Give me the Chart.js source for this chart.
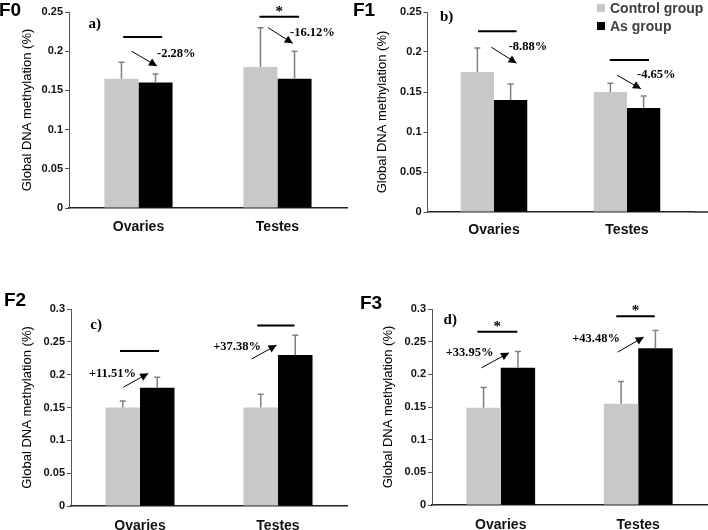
<!DOCTYPE html>
<html>
<head>
<meta charset="utf-8">
<script src="https://cdn.jsdelivr.net/npm/chart.js@4.4.1/dist/chart.umd.min.js"></script>
<style>
  body { margin: 0; background: #fff; }
  #wrap { position: relative; width: 708px; height: 530px; overflow: hidden; }
  canvas { position: absolute; }
  .tag { position: absolute; font: bold 19px "Liberation Sans", Arial, sans-serif; line-height: 19px; color: #000; }
  .lg { position: absolute; display: flex; align-items: center; font: bold 14px "Liberation Sans", Arial, sans-serif; line-height: 16px; color: #404040; }
  .sw { display: inline-block; width: 8px; height: 8px; margin-right: 5px; }
</style>
</head>
<body>
<div id="wrap">
  <canvas id="f0" width="354" height="250" style="left:0;top:0"></canvas>
  <canvas id="f1" width="354" height="250" style="left:354px;top:0"></canvas>
  <canvas id="f2" width="354" height="265" style="left:0;top:265px"></canvas>
  <canvas id="f3" width="354" height="265" style="left:354px;top:265px"></canvas>
  <div class="tag" style="left:-1px;top:0">F0</div>
  <div class="tag" style="left:353px;top:0">F1</div>
  <div class="tag" style="left:4px;top:290px">F2</div>
  <div class="tag" style="left:360px;top:293px">F3</div>
  <div class="lg" style="left:597px;top:0"><span class="sw" style="background:#c8c8c8"></span>Control group</div>
  <div class="lg" style="left:597px;top:18px"><span class="sw" style="background:#000"></span>As group</div>
</div>
<script>
// data
const categories = ['Ovaries', 'Testes'];
const seriesNames = ['Control group', 'As group'];
const ticksTop = ['0', '0.05', '0.1', '0.15', '0.2', '0.25'];
const ticksBottom = ['0', '0.05', '0.1', '0.15', '0.2', '0.25', '0.3'];

const f0Control = [0.165, 0.18];
const f0ControlSd = [0.021, 0.05];
const f0As = [0.16, 0.165];
const f0AsSd = [0.011, 0.035];
const f0Change = ['-2.28%', '-16.12%'];
const f0Signif = [false, true];

const f1Control = [0.175, 0.15];
const f1ControlSd = [0.03, 0.011];
const f1As = [0.14, 0.13];
const f1AsSd = [0.02, 0.015];
const f1Change = ['-8.88%', '-4.65%'];
const f1Signif = [false, false];

const f2Control = [0.15, 0.15];
const f2ControlSd = [0.01, 0.02];
const f2As = [0.18, 0.23];
const f2AsSd = [0.016, 0.03];
const f2Change = ['+11.51%', '+37.38%'];
const f2Signif = [false, false];

const f3Control = [0.149, 0.155];
const f3ControlSd = [0.031, 0.034];
const f3As = [0.21, 0.24];
const f3AsSd = [0.025, 0.027];
const f3Change = ['+33.95%', '+43.48%'];
const f3Signif = [true, true];

const FONT = '"Liberation Sans", Arial, sans-serif';
const SERIF = '"Liberation Serif", "Times New Roman", serif';

// one-sided (upper) error bars
const errorBars = {
  id: 'errorBars',
  afterDatasetsDraw(chart) {
    const ctx = chart.ctx, y = chart.scales.y;
    ctx.save();
    ctx.strokeStyle = '#808080';
    ctx.lineWidth = 1.5;
    chart.data.datasets.forEach((ds, di) => {
      chart.getDatasetMeta(di).data.forEach((bar, i) => {
        const top = y.getPixelForValue(ds.data[i] + ds.errors[i]);
        ctx.beginPath();
        ctx.moveTo(bar.x, bar.y);
        ctx.lineTo(bar.x, top);
        ctx.moveTo(bar.x - 3, top);
        ctx.lineTo(bar.x + 3, top);
        ctx.stroke();
      });
    });
    ctx.restore();
  }
};

// significance lines, arrows and % change labels (positions in category/value units)
const notes = {
  id: 'notes',
  afterDatasetsDraw(chart, args, o) {
    const ctx = chart.ctx, x = chart.scales.x, y = chart.scales.y;
    const X = v => x.getPixelForValue(v);
    const Y = v => y.getPixelForValue(v);
    ctx.save();
    ctx.fillStyle = '#000';
    ctx.strokeStyle = '#000';
    ctx.textBaseline = 'middle';
    ctx.textAlign = 'left';
    ctx.font = 'bold 15px ' + SERIF;
    ctx.fillText(o.letter, X(o.letterAt[0]), Y(o.letterAt[1]));

    categories.forEach((c, i) => {
      const [a, b, v] = o.sig[i];
      ctx.lineWidth = 2;
      ctx.beginPath();
      ctx.moveTo(X(i + a), Y(v));
      ctx.lineTo(X(i + b), Y(v));
      ctx.stroke();
      if (o.signif[i]) {
        ctx.font = 'bold 15px ' + SERIF;
        ctx.textAlign = 'center';
        ctx.textBaseline = 'alphabetic';
        ctx.fillText('*', (X(i + a) + X(i + b)) / 2, Y(v) - 1);
        ctx.textBaseline = 'middle';
        ctx.textAlign = 'left';
      }
      const [ax, ay, bx, by] = o.arrows[i];
      const x1 = X(i + ax), y1 = Y(ay), x2 = X(i + bx), y2 = Y(by);
      ctx.lineWidth = 1;
      ctx.beginPath();
      ctx.moveTo(x1, y1);
      ctx.lineTo(x2, y2);
      ctx.stroke();
      const ang = Math.atan2(y2 - y1, x2 - x1);
      ctx.beginPath();
      ctx.moveTo(x2, y2);
      ctx.lineTo(x2 - 8 * Math.cos(ang) + 4 * Math.sin(ang), y2 - 8 * Math.sin(ang) - 4 * Math.cos(ang));
      ctx.lineTo(x2 - 8 * Math.cos(ang) - 4 * Math.sin(ang), y2 - 8 * Math.sin(ang) + 4 * Math.cos(ang));
      ctx.closePath();
      ctx.fill();
      ctx.font = 'bold 12.5px ' + SERIF;
      ctx.fillText(o.change[i], X(i + o.labels[i][0]), Y(o.labels[i][1]));
    });

    if (o.extend) {
      ctx.strokeStyle = '#222';
      ctx.lineWidth = 1.5;
      ctx.beginPath();
      ctx.moveTo(chart.chartArea.right, chart.chartArea.bottom);
      ctx.lineTo(chart.width, chart.chartArea.bottom);
      ctx.stroke();
    }
    ctx.restore();
  }
};

function makePanel(id, cfg) {
  return new Chart(document.getElementById(id), {
    type: 'bar',
    data: {
      labels: categories,
      datasets: [
        { label: seriesNames[0], data: cfg.control, errors: cfg.controlSd, backgroundColor: '#c8c8c8' },
        { label: seriesNames[1], data: cfg.as, errors: cfg.asSd, backgroundColor: '#000' }
      ]
    },
    options: {
      responsive: false,
      animation: false,
      devicePixelRatio: 1,
      layout: { padding: cfg.pad },
      datasets: { bar: { categoryPercentage: cfg.groupPct, barPercentage: 1, borderWidth: 0 } },
      plugins: { legend: { display: false }, tooltip: { enabled: false }, notes: cfg.notes },
      scales: {
        x: {
          grid: { display: false, drawTicks: false },
          border: { color: '#222', width: 1.5 },
          ticks: { color: '#111', padding: cfg.xPad, font: { family: FONT, size: 14, weight: 'bold' } },
          afterFit: s => { s.height = cfg.xH; }
        },
        y: {
          min: 0,
          max: cfg.yMax,
          ticks: {
            stepSize: 0.05, color: '#111', padding: 2,
            font: { family: FONT, size: 11, weight: 'bold' },
            callback: (v, i) => cfg.tickLabels[i]
          },
          grid: { drawOnChartArea: false, color: '#555', tickLength: 4 },
          border: { color: '#555', width: 1 },
          title: {
            display: true,
            text: 'Global DNA methylation (%)',
            color: '#000',
            font: { family: FONT, size: 13 },
            padding: { top: cfg.titlePad, bottom: 0 }
          },
          afterFit: s => { s.width = cfg.yW; }
        }
      }
    },
    plugins: [errorBars, notes]
  });
}

makePanel('f0', {
  control: f0Control, controlSd: f0ControlSd, as: f0As, asSd: f0AsSd, yMax: 0.25, tickLabels: ticksTop,
  pad: { left: 0, top: 12, right: 7, bottom: 10 }, xH: 32, yW: 69, titlePad: 20, xPad: 11, groupPct: 0.49,
  notes: {
    letter: 'a)', letterAt: [-0.36, 0.235], change: f0Change, signif: f0Signif,
    sig: [[-0.11, 0.17, 0.218], [-0.13, 0.155, 0.244]],
    arrows: [[-0.05, 0.2, 0.133, 0.181], [-0.068, 0.23, 0.11, 0.21]],
    labels: [[0.133, 0.197], [0.09, 0.224]]
  }
});

makePanel('f1', {
  control: f1Control, controlSd: f1ControlSd, as: f1As, asSd: f1AsSd, yMax: 0.25, tickLabels: ticksTop,
  pad: { left: 0, top: 12, right: 14.5, bottom: 10 }, xH: 28, yW: 73.5, titlePad: 21, xPad: 10, groupPct: 0.5,
  notes: {
    letter: 'b)', letterAt: [-0.406, 0.244], change: f1Change, signif: f1Signif, extend: true,
    sig: [[-0.12, 0.17, 0.226], [-0.13, 0.165, 0.19]],
    arrows: [[-0.02, 0.206, 0.17, 0.186], [-0.075, 0.171, 0.105, 0.154]],
    labels: [[0.11, 0.207], [0.075, 0.171]]
  }
});

makePanel('f2', {
  control: f2Control, controlSd: f2ControlSd, as: f2As, asSd: f2AsSd, yMax: 0.3, tickLabels: ticksBottom,
  pad: { left: 0, top: 44, right: 7, bottom: 0 }, xH: 24, yW: 71, titlePad: 20, xPad: 12, groupPct: 0.5,
  notes: {
    letter: 'c)', letterAt: [-0.36, 0.275], change: f2Change, signif: f2Signif,
    sig: [[-0.145, 0.138, 0.236], [-0.15, 0.12, 0.275]],
    arrows: [[-0.12, 0.181, 0.06, 0.202], [-0.19, 0.224, -0.01, 0.245]],
    labels: [[-0.37, 0.201], [-0.47, 0.243]]
  }
});

makePanel('f3', {
  control: f3Control, controlSd: f3ControlSd, as: f3As, asSd: f3AsSd, yMax: 0.3, tickLabels: ticksBottom,
  pad: { left: 0, top: 44, right: 1, bottom: 0 }, xH: 25, yW: 78, titlePad: 27, xPad: 12, groupPct: 0.5,
  notes: {
    letter: 'd)', letterAt: [-0.416, 0.283], change: f3Change, signif: f3Signif,
    sig: [[-0.17, 0.12, 0.265], [-0.16, 0.12, 0.289]],
    arrows: [[-0.14, 0.21, 0.06, 0.233], [-0.15, 0.234, 0.04, 0.257]],
    labels: [[-0.4, 0.233], [-0.48, 0.254]]
  }
});
</script>
</body>
</html>
